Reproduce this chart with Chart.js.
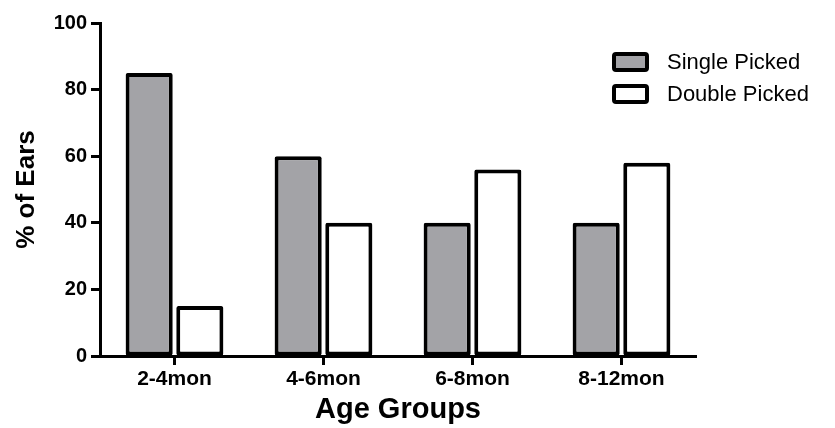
<!DOCTYPE html>
<html>
<head>
<meta charset="utf-8">
<script src="https://cdn.jsdelivr.net/npm/chart.js@4"></script>
<style>
  html, body { margin: 0; padding: 0; background: #fff; }
  #wrap { width: 835px; height: 428px; }
</style>
</head>
<body>
<div id="wrap"><canvas id="chart" width="835" height="428"></canvas></div>
<script>
// data
const ageGroups = ['2-4mon', '4-6mon', '6-8mon', '8-12mon'];
const singlePicked = [85, 60, 40, 40];
const doublePicked = [15, 40, 56, 58];
const yTicks = [0, 20, 40, 60, 80, 100];

const grayFill = '#a3a3a7';
const fontFamily = '"Liberation Sans", Arial, Helvetica, sans-serif';

// legend drawn in the top right, overlapping the plot like the original
const sideLegend = {
    id: 'sideLegend',
    afterDraw(chart) {
        const ctx = chart.ctx;
        ctx.save();
        chart.data.datasets.forEach((ds, i) => {
            const y = 54 + i * 32;
            ctx.lineWidth = 4;
            ctx.strokeStyle = '#000';
            ctx.fillStyle = ds.backgroundColor;
            ctx.beginPath();
            ctx.roundRect(614, y, 33, 16, 2);
            ctx.fill();
            ctx.stroke();
            ctx.fillStyle = '#000';
            ctx.font = '22px ' + fontFamily;
            ctx.textBaseline = 'middle';
            ctx.fillText(ds.label, 667, y + 9);
        });
        ctx.restore();
    }
};

new Chart(document.getElementById('chart'), {
    type: 'bar',
    data: {
        labels: ageGroups,
        datasets: [{
            label: 'Single Picked',
            data: singlePicked,
            backgroundColor: grayFill,
            borderColor: '#000',
            borderWidth: 4,
            borderSkipped: false,
            borderRadius: 2,
            categoryPercentage: 0.68,
            barPercentage: 0.93
        }, {
            label: 'Double Picked',
            data: doublePicked,
            backgroundColor: '#ffffff',
            borderColor: '#000',
            borderWidth: 4,
            borderSkipped: false,
            borderRadius: 2,
            categoryPercentage: 0.68,
            barPercentage: 0.93
        }]
    },
    options: {
        responsive: false,
        animation: false,
        layout: { padding: { left: 0, right: 139, top: 23, bottom: 0 } },
        plugins: {
            legend: { display: false },
            tooltip: { enabled: false }
        },
        scales: {
            x: {
                grid: {
                    offset: false,
                    drawOnChartArea: false,
                    tickLength: 9,
                    tickColor: '#000',
                    tickWidth: 3
                },
                border: { color: '#000', width: 3 },
                ticks: {
                    color: '#000',
                    padding: 2,
                    font: { family: fontFamily, size: 21, weight: 'bold' }
                },
                title: {
                    display: true,
                    text: 'Age Groups',
                    color: '#000',
                    padding: { top: 0, bottom: 4 },
                    font: { family: fontFamily, size: 29, weight: 'bold', lineHeight: 1 }
                },
                afterFit(scale) { scale.height = 72; }
            },
            y: {
                min: 0,
                max: 100,
                afterBuildTicks(scale) { scale.ticks = yTicks.map(v => ({ value: v })); },
                grid: {
                    drawOnChartArea: false,
                    tickLength: 9,
                    tickColor: '#000',
                    tickWidth: 3
                },
                border: { color: '#000', width: 3 },
                ticks: {
                    color: '#000',
                    padding: 4,
                    font: { family: fontFamily, size: 20, weight: 'bold' }
                },
                title: {
                    display: true,
                    text: '% of Ears',
                    color: '#000',
                    padding: { top: 11, bottom: 0 },
                    font: { family: fontFamily, size: 26, weight: 'bold' }
                },
                afterFit(scale) { scale.width = 100; }
            }
        }
    },
    plugins: [sideLegend]
});
</script>
</body>
</html>
